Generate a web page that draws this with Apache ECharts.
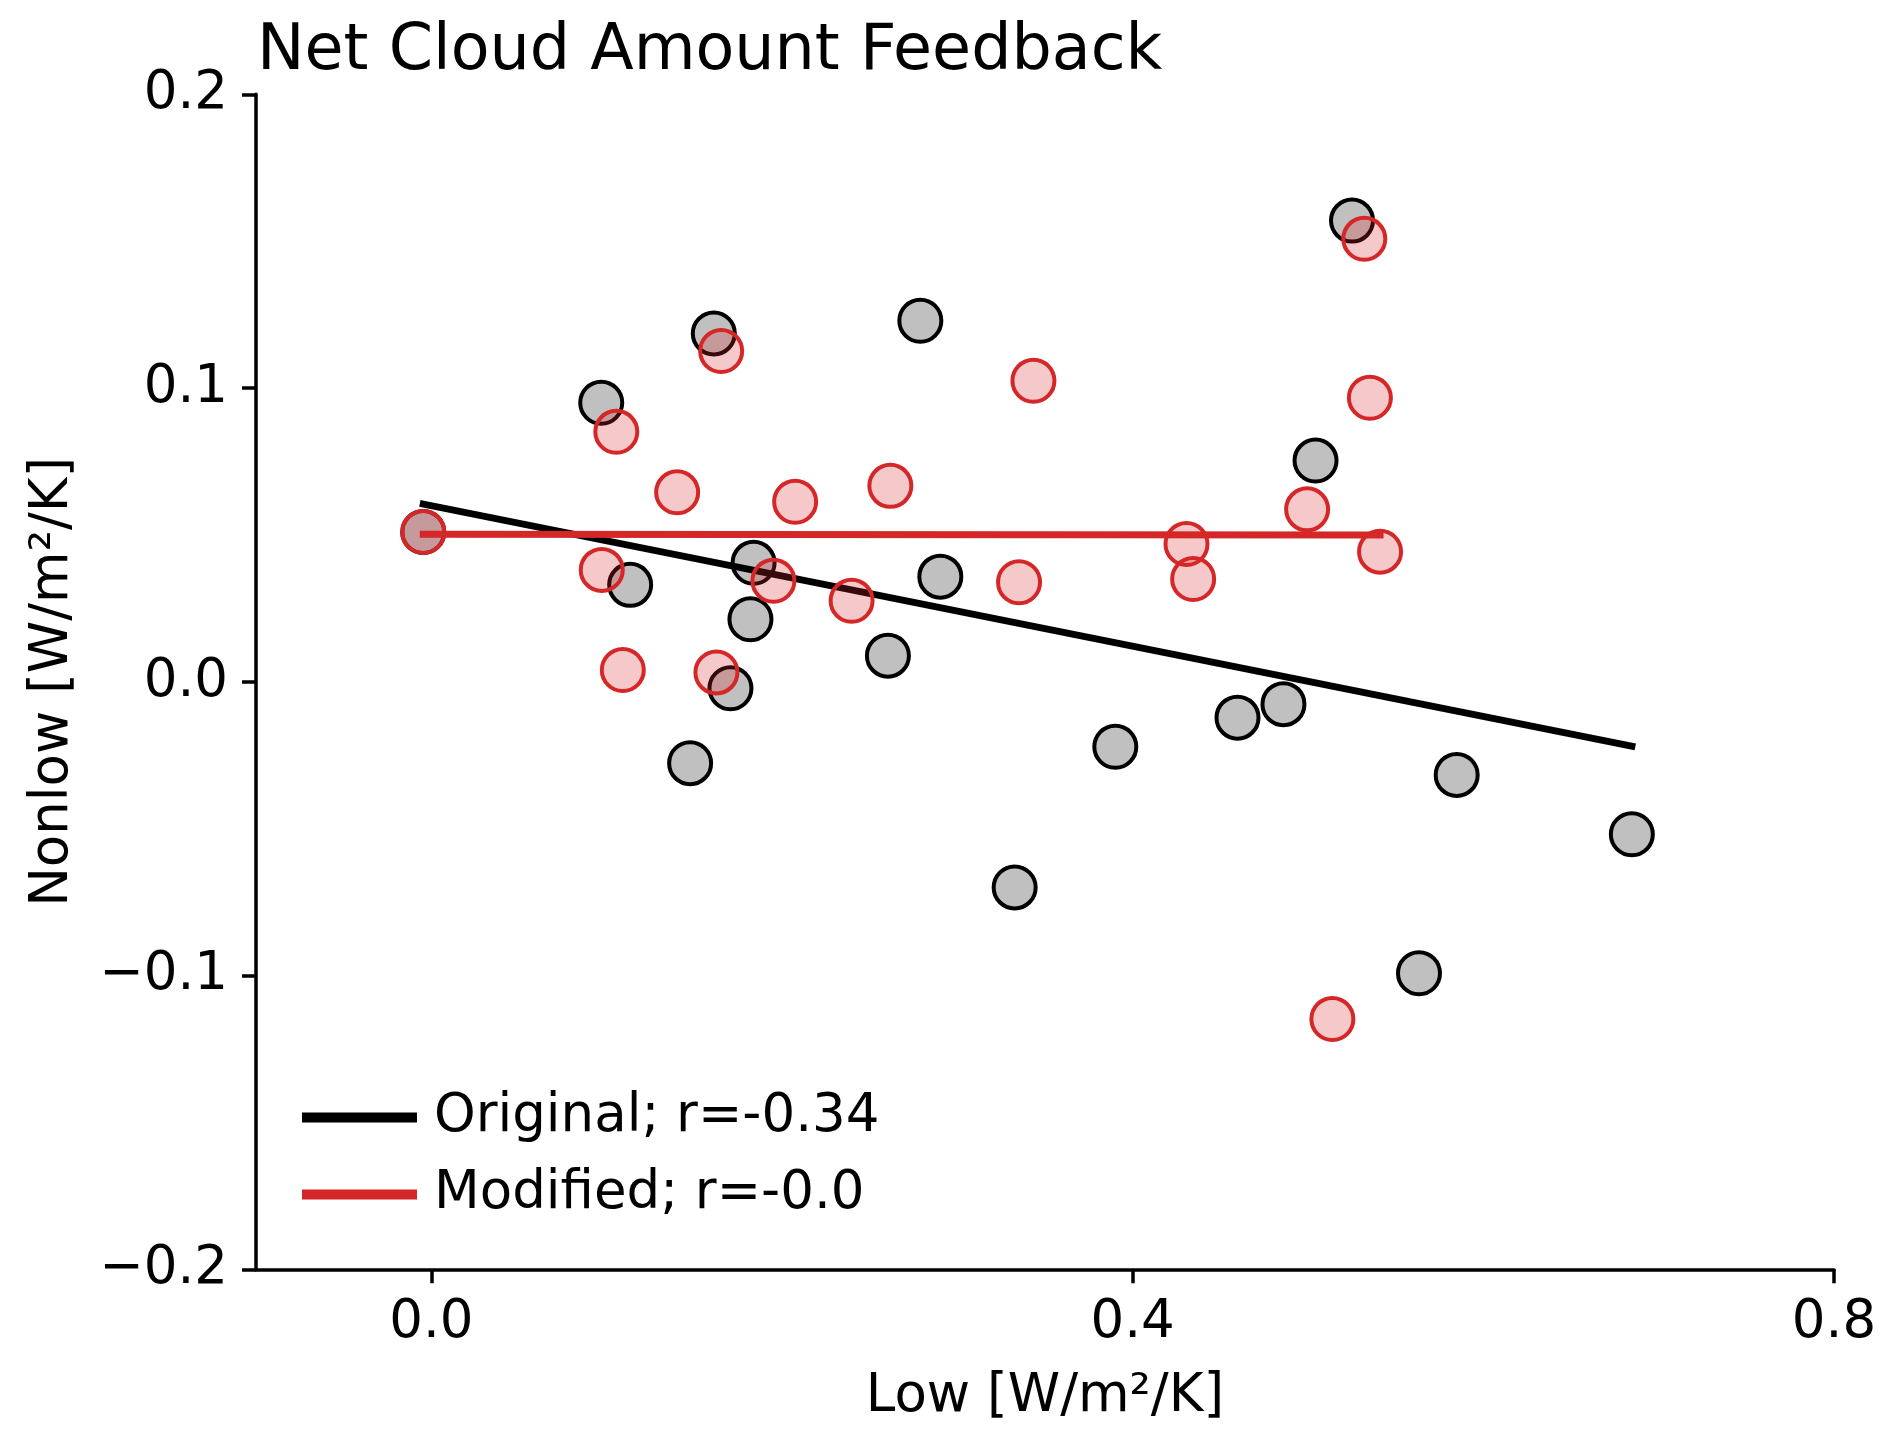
<!DOCTYPE html>
<html>
<head>
<meta charset="utf-8">
<script src="https://cdn.jsdelivr.net/npm/echarts@6/dist/echarts.min.js"></script>
<style>
html,body{margin:0;padding:0;background:#fff;}
#chart{width:1892px;height:1441px;}
</style>
</head>
<body>
<div id="chart"></div>
<script>
// ---- data ----
var originalX = [-0.0046, 0.0969, 0.1134, 0.1611, 0.1476, 0.1706, 0.1838, 0.1820, 0.2789, 0.2604,
                 0.2903, 0.3327, 0.3901, 0.4598, 0.4860, 0.5043, 0.5251, 0.5633, 0.5848, 0.6847];
var originalY = [0.0510, 0.0950, 0.0330, 0.1186, -0.0277, -0.0022, 0.0405, 0.0213, 0.1229, 0.0089,
                 0.0358, -0.0700, -0.0221, -0.0122, -0.0076, 0.0753, 0.1570, -0.0992, -0.0317, -0.0519];
var modifiedX = [-0.0046, 0.1055, 0.0972, 0.1092, 0.1402, 0.1653, 0.1626, 0.1951, 0.2075, 0.2397,
                 0.2618, 0.3434, 0.3352, 0.4307, 0.4345, 0.4995, 0.5321, 0.5353, 0.5411, 0.5139];
var modifiedY = [0.0510, 0.0851, 0.0381, 0.0040, 0.0645, 0.1126, 0.0032, 0.0344, 0.0613, 0.0276,
                 0.0667, 0.1025, 0.0339, 0.0469, 0.0350, 0.0587, 0.1508, 0.0967, 0.0443, -0.1148];
var originalFitX = [-0.0046, 0.6847];
var originalFitY = [0.0605, -0.0219];
var modifiedFitX = [-0.0046, 0.5411];
var modifiedFitY = [0.0502, 0.0500];
var xTicks = [0.0, 0.4, 0.8];
var yTicks = [-0.2, -0.1, 0.0, 0.1, 0.2];
var titleText = 'Net Cloud Amount Feedback';
var xName = 'Low [W/m\u00B2/K]';
var yName = 'Nonlow [W/m\u00B2/K]';
var originalName = 'Original; r=-0.34';
var modifiedName = 'Modified; r=-0.0';

function zip(xs, ys){ return xs.map(function(x,i){ return [x, ys[i]]; }); }
function fmt(v){
  var s = Math.abs(v).toFixed(1);
  return (v < -1e-9 ? '\u2212' : '') + s;
}

var FONT = 'DejaVu Sans';
var FS = 53;
var RED = '#d62728';
var chart = echarts.init(document.getElementById('chart'), null, {renderer:'canvas'});
chart.setOption({
  animation: false,
  backgroundColor: '#ffffff',
  textStyle: {fontFamily: FONT, color: '#000'},
  title: {
    text: titleText,
    left: 252, top: 15,
    textStyle: {fontFamily: FONT, fontSize: 63.5, fontWeight: 'normal', color: '#000'}
  },
  grid: {left: 256, top: 94.3, width: 1578, height: 1175, containLabel: false},
  legend: {
    orient: 'vertical',
    left: 297, top: 1086,
    itemWidth: 115, itemHeight: 10, itemGap: 24,
    icon: 'rect',
    textStyle: {fontFamily: FONT, fontSize: FS, color: '#000', lineHeight: 53, padding: [0,0,0,12]},
    data: [
      {name: originalName, itemStyle: {color: '#000'}},
      {name: modifiedName, itemStyle: {color: RED}}
    ]
  },
  xAxis: {
    type: 'value', min: -0.1, max: 0.8,
    name: xName, nameLocation: 'middle', nameGap: 101,
    nameTextStyle: {fontFamily: FONT, fontSize: FS, color: '#000'},
    axisLine: {show: true, onZero: false, lineStyle: {color: '#000', width: 3.5}},
    axisTick: {show: true, length: 14, lineStyle: {color: '#000', width: 3.5}, customValues: xTicks},
    axisLabel: {fontFamily: FONT, fontSize: FS, color: '#000', margin: 27, customValues: xTicks, formatter: fmt},
    splitLine: {show: false}
  },
  yAxis: {
    type: 'value', min: -0.2, max: 0.2, interval: 0.1,
    name: yName, nameLocation: 'middle', nameGap: 176, nameRotate: 90,
    nameTextStyle: {fontFamily: FONT, fontSize: FS, color: '#000'},
    axisLine: {show: true, onZero: false, lineStyle: {color: '#000', width: 3.5}},
    axisTick: {show: true, length: 14, lineStyle: {color: '#000', width: 3.5}, customValues: yTicks},
    axisLabel: {fontFamily: FONT, fontSize: FS, color: '#000', margin: 28, customValues: yTicks, formatter: fmt},
    splitLine: {show: false}
  },
  series: [
    {
      name: 'originalPoints', type: 'scatter', symbol: 'circle', symbolSize: 42,
      itemStyle: {color: '#c0c0c0', borderColor: '#000', borderWidth: 4, opacity: 1},
      data: zip(originalX, originalY), z: 2
    },
    {
      name: originalName, type: 'line', symbol: 'none', showSymbol: false,
      lineStyle: {color: '#000', width: 7, cap: 'square'}, itemStyle: {color: '#000'},
      data: zip(originalFitX, originalFitY), z: 3
    },
    {
      name: 'modifiedPoints', type: 'scatter', symbol: 'circle', symbolSize: 42,
      itemStyle: {color: 'rgba(214,39,40,0.25)', borderColor: RED, borderWidth: 4, opacity: 1},
      data: zip(modifiedX, modifiedY), z: 4
    },
    {
      name: modifiedName, type: 'line', symbol: 'none', showSymbol: false,
      lineStyle: {color: RED, width: 7, cap: 'square'}, itemStyle: {color: RED},
      data: zip(modifiedFitX, modifiedFitY), z: 5
    }
  ]
});
</script>
</body>
</html>
